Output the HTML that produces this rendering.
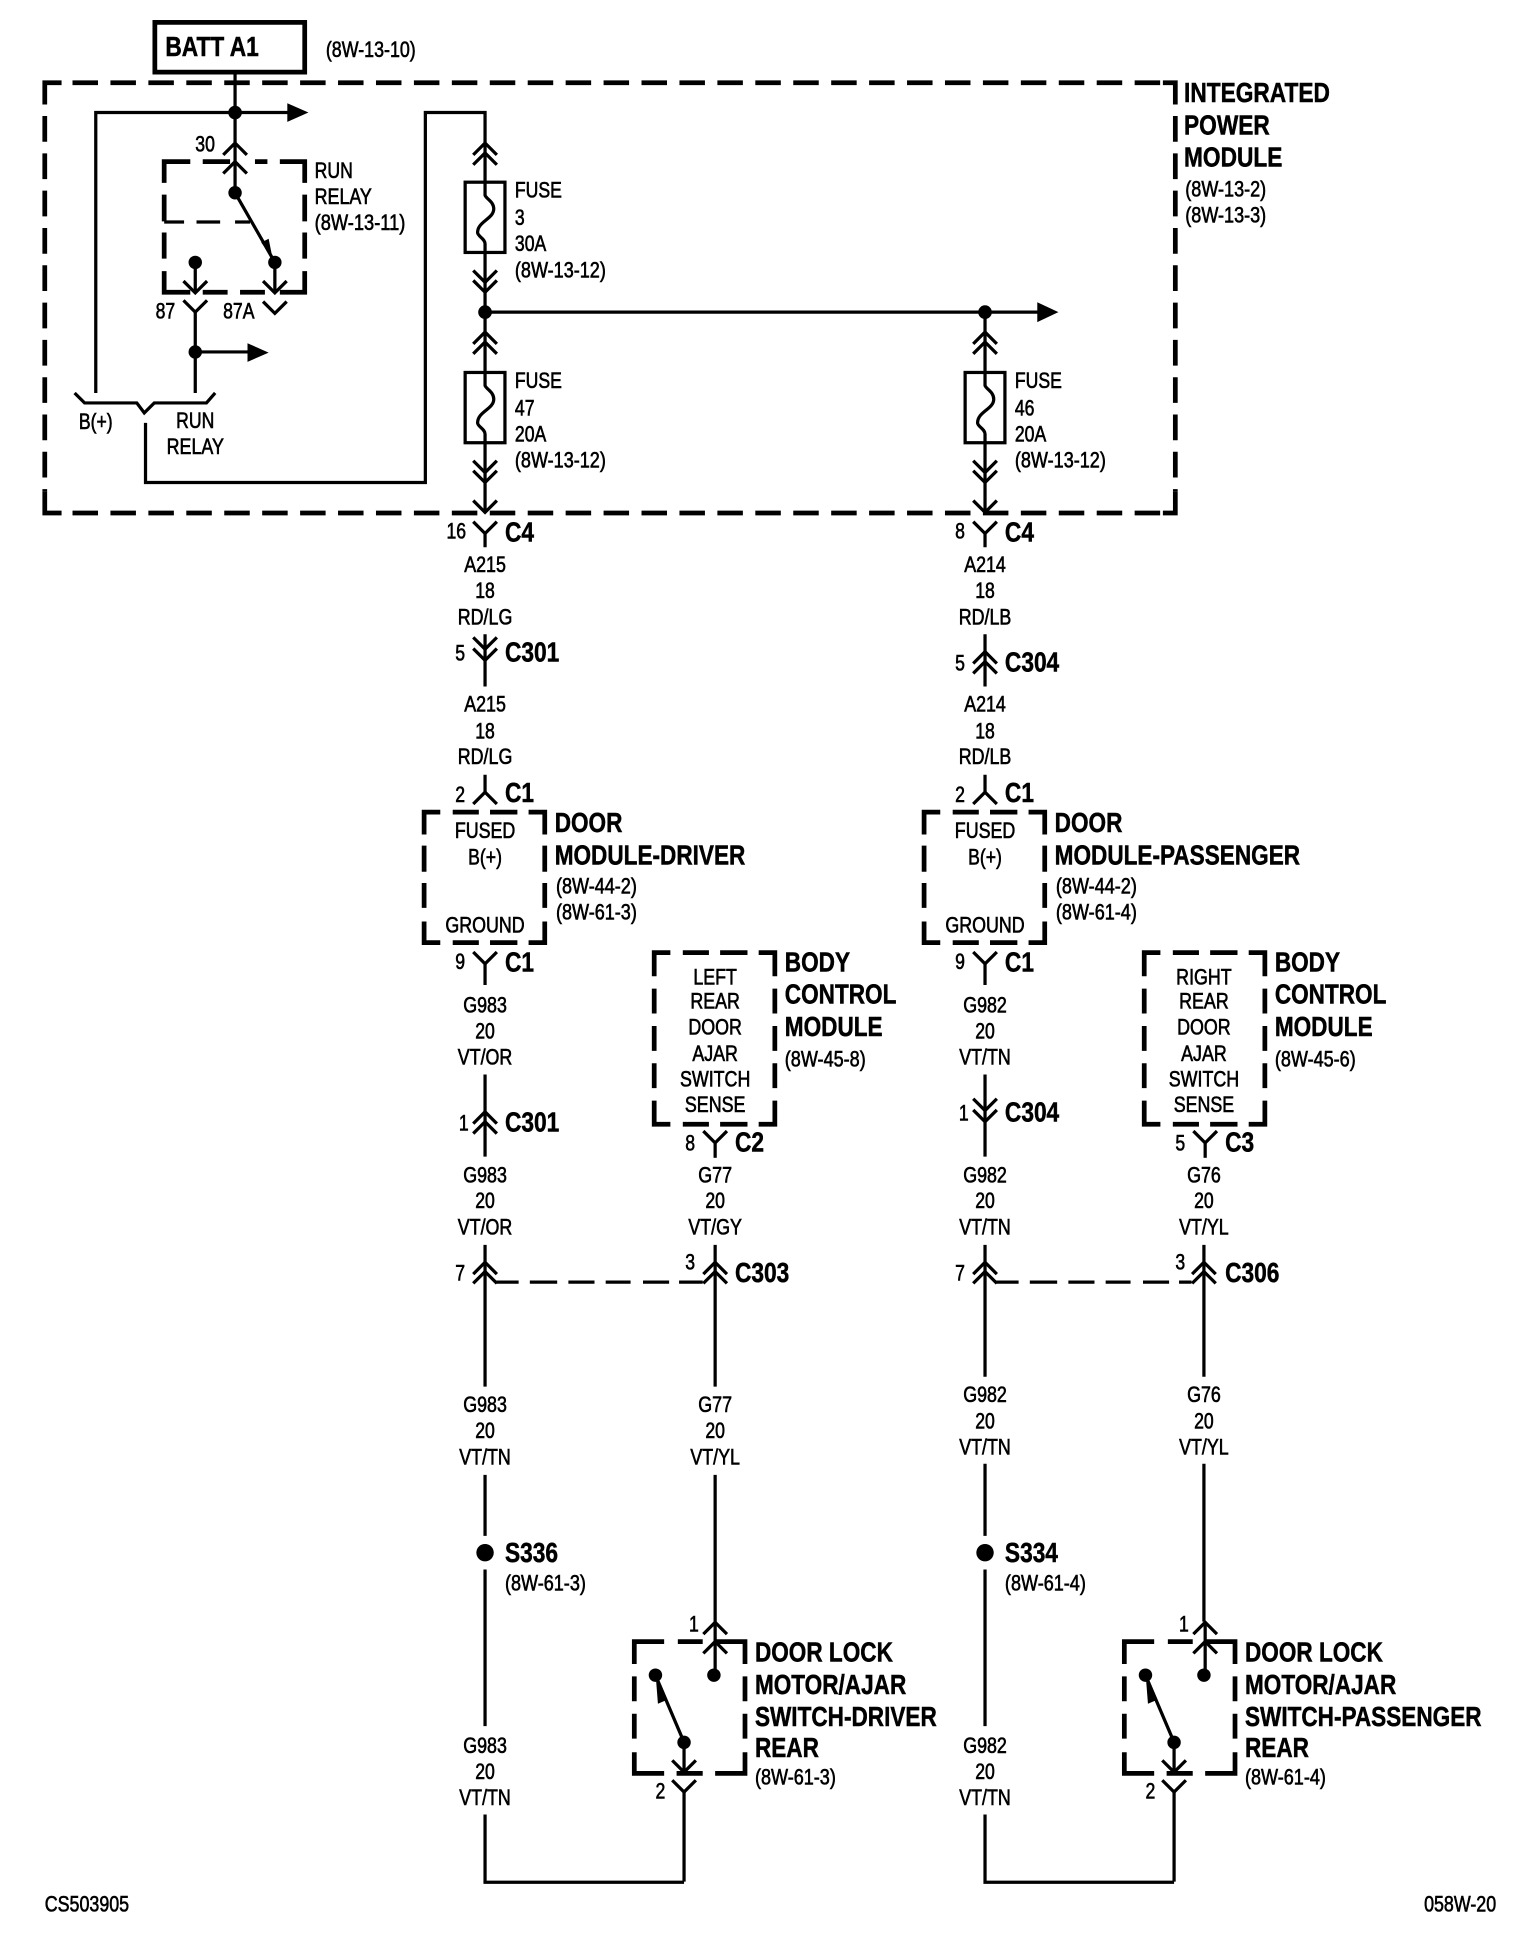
<!DOCTYPE html>
<html lang="en"><head><meta charset="utf-8"><title>Wiring diagram 8W-20</title>
<style>
html,body{margin:0;padding:0;background:#fff}
svg{display:block;width:1536px;height:1950px}
text{font-family:"Liberation Sans",Arial,sans-serif;fill:#000}
.t{font-size:17.5px;stroke:#000;stroke-width:.5}
.b{font-size:22px;font-weight:bold;stroke:#000;stroke-width:.4}
.m{text-anchor:middle}
.w,.c{fill:none;stroke:#000;stroke-width:2.6}
.c{stroke-linejoin:miter}
.d{fill:none;stroke:#000;stroke-width:3.8}
.f{fill:#000;stroke:none}
</style></head><body>
<svg xmlns="http://www.w3.org/2000/svg" viewBox="0 0 1235 1568" preserveAspectRatio="none">
<rect width="1235" height="1568" fill="#fff"/>
<defs>
<path id="dn" class="c" d="M-9.5,-9.5L0,0L9.5,-9.5"/>
<path id="up" class="c" d="M-9.5,9.5L0,0L9.5,9.5"/>
<g id="sw">
<path class="d" d="M510,1338V1320H534M545,1320H565M575,1320H599V1338M510,1348V1368M510,1378V1398M510,1409V1426H534M544,1426H565M575,1426H599V1409M599,1348V1368M599,1378V1398"/>
<path class="w" d="M575,1304V1347M550,1401V1424M550,1440V1513"/>
<path class="w" d="M527,1347L550,1401"/>
<path class="f" d="M527.5,1351L536,1367L529,1370Z"/>
<use href="#up" x="575" y="1304.5"/><use href="#up" x="575" y="1320"/>
<use href="#dn" x="550" y="1425"/><use href="#dn" x="550" y="1441"/>
<circle class="f" cx="574" cy="1347" r="5.4"/><circle class="f" cx="527" cy="1347" r="5.4"/><circle class="f" cx="550" cy="1401" r="5.4"/>
</g>
<g id="dm">
<path class="d" d="M341,671V653H354M364,653H385M394,653H416M425,653H438V671M341,680V701M341,710V730M341,741V758H354M364,758H385M394,758H416M425,758H438V741M438,680V701M438,710V730"/>
<path class="w" d="M390,623V638M390,775V792"/>
<use href="#up" x="390" y="637"/><use href="#dn" x="390" y="775"/>
</g>
<g id="bcm">
<path class="d" d="M526,785V766H539M549,766H570M579,766H601M610,766H623V785M526,795V815M526,825V845M526,855V875M526,885V904H539M549,904H570M579,904H601M610,904H623V885M623,795V815M623,825V845M623,855V875"/>
<path class="w" d="M575,918V931"/><use href="#dn" x="575" y="919"/>
</g>
<g id="lowc">
<path class="w" d="M390,1001V1115"/><use href="#up" x="390" y="1015"/><use href="#up" x="390" y="1022.5"/>
<path class="w" d="M575,1001V1115"/><use href="#up" x="575" y="1015"/><use href="#up" x="575" y="1022.5"/>
</g>
</defs>

<!-- outer module -->
<path class="d" d="M36,84V66.500H49.500M945,84V66.500H935M36,395V412.500H49.500M945,395V412.500H935"/>
<path class="d" stroke-dasharray="20.5 10" d="M58.300,66.500H935M58.300,412.500H935"/>
<path class="d" stroke-dasharray="20.700 9.300" d="M36,93.300V395M945,93.300V395"/>

<!-- batt -->
<rect x="124.500" y="18" width="120.500" height="40" fill="none" stroke="#000" stroke-width="3.8"/>
<text class="b" transform="translate(133,45) scale(.83 1)">BATT A1</text>
<text class="t" transform="translate(262,46) scale(.82 1)">(8W-13-10)</text>
<path class="w" d="M189,58V155M77,316V90.500H232"/><path class="f" d="M231,83L248,90.500L231,98Z"/>
<circle class="f" cx="189" cy="90.500" r="5.500"/>
<use href="#up" x="189" y="115"/><use href="#up" x="189" y="130"/>
<text class="t" transform="translate(157,122) scale(.81 1)">30</text>

<!-- relay -->
<path class="d" d="M132,147V130H153M163,130H185M205,130H215M225,130H245V147M245,156.500V178M245,187V208M245,218V235H225M213,235H193M183,235H163M153,235H132V218M132,208V187M132,178V156.500"/>
<path class="w" d="M132,178.500H148M158,178.500H177M189,178.500H201"/>
<path class="w" d="M189,155L221,211M157,211V235M221,211V235M157,250V316"/>
<path class="f" d="M219,207L210,195L216,192Z"/>
<circle class="f" cx="189" cy="155" r="5.400"/><circle class="f" cx="157" cy="211" r="5.400"/><circle class="f" cx="221" cy="211" r="5.400"/>
<use href="#dn" x="157" y="235.500"/><use href="#dn" x="221" y="235.500"/><use href="#dn" x="157" y="251"/><use href="#dn" x="221" y="252"/>
<text class="t" transform="translate(253,143) scale(.81 1)">RUN</text>
<text class="t" transform="translate(253,164) scale(.82 1)">RELAY</text>
<text class="t" transform="translate(253,185) scale(.84 1)">(8W-13-11)</text>
<text class="t m" transform="translate(133,256) scale(.81 1)">87</text>
<text class="t m" transform="translate(192,256) scale(.81 1)">87A</text>
<circle class="f" cx="157" cy="283" r="5.400"/>
<path class="w" d="M157,283H200"/><path class="f" d="M199,276L216,283.500L199,291Z"/>
<path class="w" d="M60,316L68,324H110L116,332L124,324H166L173,316"/>
<text class="t m" transform="translate(77,345) scale(.81 1)">B(+)</text>
<text class="t m" transform="translate(157,344) scale(.81 1)">RUN</text>
<text class="t m" transform="translate(157,365) scale(.82 1)">RELAY</text>
<path class="w" d="M117,340V388H342V90.500H390V146"/>

<!-- fuses -->
<use href="#up" x="390" y="115"/><use href="#up" x="390" y="123"/>
<rect x="374" y="146.500" width="32" height="56.500" fill="none" stroke="#000" stroke-width="2.600"/>
<path class="w" d="M390,146.500V157C391,160 397,162 397,168C397,176 384,178 384,187C384,190 390,192 390,196V251"/>
<use href="#dn" x="390" y="227"/><use href="#dn" x="390" y="235"/>
<circle class="f" cx="390" cy="251" r="5.500"/>
<text class="t" transform="translate(414,159) scale(.81 1)">FUSE</text>
<text class="t" transform="translate(414,181) scale(.81 1)">3</text>
<text class="t" transform="translate(414,202) scale(.81 1)">30A</text>
<text class="t" transform="translate(414,223) scale(.83 1)">(8W-13-12)</text>
<path class="w" d="M390,251H835"/><path class="f" d="M834,243L851,251L834,259Z"/>
<circle class="f" cx="792" cy="251" r="5.500"/>

<use href="#up" x="390" y="267"/><use href="#up" x="390" y="275"/>
<rect x="374" y="299.500" width="32" height="56.500" fill="none" stroke="#000" stroke-width="2.600"/>
<path class="w" d="M390,251V310C391,313 397,315 397,321C397,329 384,331 384,340C384,343 390,345 390,349V412"/>
<use href="#dn" x="390" y="380"/><use href="#dn" x="390" y="388"/><use href="#dn" x="390" y="412"/>
<text class="t" transform="translate(414,312) scale(.81 1)">FUSE</text>
<text class="t" transform="translate(414,334) scale(.81 1)">47</text>
<text class="t" transform="translate(414,355) scale(.81 1)">20A</text>
<text class="t" transform="translate(414,376) scale(.83 1)">(8W-13-12)</text>

<use href="#up" x="792" y="267"/><use href="#up" x="792" y="275"/>
<rect x="776" y="299.500" width="32" height="56.500" fill="none" stroke="#000" stroke-width="2.600"/>
<path class="w" d="M792,251V310C793,313 799,315 799,321C799,329 786,331 786,340C786,343 792,345 792,349V412"/>
<use href="#dn" x="792" y="380"/><use href="#dn" x="792" y="388"/><use href="#dn" x="792" y="412"/>
<text class="t" transform="translate(816,312) scale(.81 1)">FUSE</text>
<text class="t" transform="translate(816,334) scale(.81 1)">46</text>
<text class="t" transform="translate(816,355) scale(.81 1)">20A</text>
<text class="t" transform="translate(816,376) scale(.83 1)">(8W-13-12)</text>

<text class="b" transform="translate(952,82) scale(.83 1)">INTEGRATED</text>
<text class="b" transform="translate(952,108) scale(.83 1)">POWER</text>
<text class="b" transform="translate(952,134) scale(.83 1)">MODULE</text>
<text class="t" transform="translate(953,158) scale(.83 1)">(8W-13-2)</text>
<text class="t" transform="translate(953,179) scale(.83 1)">(8W-13-3)</text>

<!-- C4 -->
<path class="w" d="M390,428V440M792,428V440"/><use href="#dn" x="390" y="429"/><use href="#dn" x="792" y="429"/>
<text class="t" transform="translate(359,433) scale(.81 1)">16</text>
<text class="b" transform="translate(406,435.500) scale(.83 1)">C4</text>
<text class="t" transform="translate(768,433) scale(.81 1)">8</text>
<text class="b" transform="translate(808,435.500) scale(.83 1)">C4</text>

<text class="t m" transform="translate(390,460) scale(.82 1)">A215</text>
<text class="t m" transform="translate(390,481) scale(.81 1)">18</text>
<text class="t m" transform="translate(390,502) scale(.82 1)">RD/LG</text>
<text class="t m" transform="translate(792,460) scale(.82 1)">A214</text>
<text class="t m" transform="translate(792,481) scale(.81 1)">18</text>
<text class="t m" transform="translate(792,502) scale(.82 1)">RD/LB</text>

<!-- C301 / C304 upper -->
<path class="w" d="M390,510V552M792,510V552"/>
<use href="#dn" x="390" y="522"/><use href="#dn" x="390" y="531"/>
<use href="#up" x="792" y="524"/><use href="#up" x="792" y="532"/>
<text class="t" transform="translate(366,531) scale(.81 1)">5</text>
<text class="b" transform="translate(406,532) scale(.83 1)">C301</text>
<text class="t" transform="translate(768,539) scale(.81 1)">5</text>
<text class="b" transform="translate(808,540) scale(.83 1)">C304</text>

<text class="t m" transform="translate(390,572) scale(.82 1)">A215</text>
<text class="t m" transform="translate(390,594) scale(.81 1)">18</text>
<text class="t m" transform="translate(390,614.500) scale(.82 1)">RD/LG</text>
<text class="t m" transform="translate(792,572) scale(.82 1)">A214</text>
<text class="t m" transform="translate(792,594) scale(.81 1)">18</text>
<text class="t m" transform="translate(792,614.500) scale(.82 1)">RD/LB</text>

<!-- door modules -->
<use href="#dm"/><use href="#dm" x="402"/>
<text class="t" transform="translate(366,645) scale(.81 1)">2</text>
<text class="b" transform="translate(406,645) scale(.83 1)">C1</text>
<text class="t" transform="translate(768,645) scale(.81 1)">2</text>
<text class="b" transform="translate(808,645) scale(.83 1)">C1</text>
<text class="t m" transform="translate(390,674) scale(.82 1)">FUSED</text>
<text class="t m" transform="translate(390,695) scale(.81 1)">B(+)</text>
<text class="t m" transform="translate(390,750) scale(.82 1)">GROUND</text>
<text class="t m" transform="translate(792,674) scale(.82 1)">FUSED</text>
<text class="t m" transform="translate(792,695) scale(.81 1)">B(+)</text>
<text class="t m" transform="translate(792,750) scale(.82 1)">GROUND</text>
<text class="b" transform="translate(446,669) scale(.825 1)">DOOR</text>
<text class="b" transform="translate(446,695) scale(.825 1)">MODULE-DRIVER</text>
<text class="t" transform="translate(447,718.500) scale(.83 1)">(8W-44-2)</text>
<text class="t" transform="translate(447,739.500) scale(.83 1)">(8W-61-3)</text>
<text class="b" transform="translate(848,669) scale(.825 1)">DOOR</text>
<text class="b" transform="translate(848,695) scale(.825 1)">MODULE-PASSENGER</text>
<text class="t" transform="translate(849,718.500) scale(.83 1)">(8W-44-2)</text>
<text class="t" transform="translate(849,739.500) scale(.83 1)">(8W-61-4)</text>
<text class="t" transform="translate(366,779) scale(.81 1)">9</text>
<text class="b" transform="translate(406,781) scale(.83 1)">C1</text>
<text class="t" transform="translate(768,779) scale(.81 1)">9</text>
<text class="b" transform="translate(808,781) scale(.83 1)">C1</text>

<text class="t m" transform="translate(390,814) scale(.82 1)">G983</text>
<text class="t m" transform="translate(390,835) scale(.81 1)">20</text>
<text class="t m" transform="translate(390,856) scale(.82 1)">VT/OR</text>
<text class="t m" transform="translate(792,814) scale(.82 1)">G982</text>
<text class="t m" transform="translate(792,835) scale(.81 1)">20</text>
<text class="t m" transform="translate(792,856) scale(.82 1)">VT/TN</text>

<!-- mid connectors -->
<path class="w" d="M390,864V930M792,864V930"/>
<use href="#up" x="390" y="894"/><use href="#up" x="390" y="902"/>
<use href="#dn" x="792" y="893"/><use href="#dn" x="792" y="902"/>
<text class="t" transform="translate(369,909) scale(.81 1)">1</text>
<text class="b" transform="translate(406,910) scale(.83 1)">C301</text>
<text class="t" transform="translate(771,901) scale(.81 1)">1</text>
<text class="b" transform="translate(808,902) scale(.83 1)">C304</text>

<!-- BCMs -->
<use href="#bcm"/><use href="#bcm" x="394"/>
<text class="t m" transform="translate(575,791.500) scale(.82 1)">LEFT</text>
<text class="t m" transform="translate(575,811) scale(.82 1)">REAR</text>
<text class="t m" transform="translate(575,832) scale(.82 1)">DOOR</text>
<text class="t m" transform="translate(575,853) scale(.82 1)">AJAR</text>
<text class="t m" transform="translate(575,873.500) scale(.82 1)">SWITCH</text>
<text class="t m" transform="translate(575,894) scale(.82 1)">SENSE</text>
<text class="t m" transform="translate(968,791.500) scale(.82 1)">RIGHT</text>
<text class="t m" transform="translate(968,811) scale(.82 1)">REAR</text>
<text class="t m" transform="translate(968,832) scale(.82 1)">DOOR</text>
<text class="t m" transform="translate(968,853) scale(.82 1)">AJAR</text>
<text class="t m" transform="translate(968,873.500) scale(.82 1)">SWITCH</text>
<text class="t m" transform="translate(968,894) scale(.82 1)">SENSE</text>
<text class="b" transform="translate(631,781) scale(.825 1)">BODY</text>
<text class="b" transform="translate(631,807) scale(.825 1)">CONTROL</text>
<text class="b" transform="translate(631,833) scale(.825 1)">MODULE</text>
<text class="t" transform="translate(631,857.500) scale(.83 1)">(8W-45-8)</text>
<text class="b" transform="translate(1025,781) scale(.825 1)">BODY</text>
<text class="b" transform="translate(1025,807) scale(.825 1)">CONTROL</text>
<text class="b" transform="translate(1025,833) scale(.825 1)">MODULE</text>
<text class="t" transform="translate(1025,857.500) scale(.83 1)">(8W-45-6)</text>
<text class="t" transform="translate(551,925) scale(.81 1)">8</text>
<text class="b" transform="translate(591,926) scale(.83 1)">C2</text>
<text class="t" transform="translate(945,925) scale(.81 1)">5</text>
<text class="b" transform="translate(985,926) scale(.83 1)">C3</text>

<text class="t m" transform="translate(390,951) scale(.82 1)">G983</text>
<text class="t m" transform="translate(390,971.500) scale(.81 1)">20</text>
<text class="t m" transform="translate(390,992.500) scale(.82 1)">VT/OR</text>
<text class="t m" transform="translate(575,951) scale(.82 1)">G77</text>
<text class="t m" transform="translate(575,971.500) scale(.81 1)">20</text>
<text class="t m" transform="translate(575,992.500) scale(.82 1)">VT/GY</text>
<text class="t m" transform="translate(792,951) scale(.82 1)">G982</text>
<text class="t m" transform="translate(792,971.500) scale(.81 1)">20</text>
<text class="t m" transform="translate(792,992.500) scale(.82 1)">VT/TN</text>
<text class="t m" transform="translate(968,951) scale(.82 1)">G76</text>
<text class="t m" transform="translate(968,971.500) scale(.81 1)">20</text>
<text class="t m" transform="translate(968,992.500) scale(.82 1)">VT/YL</text>

<!-- C303 / C306 -->
<use href="#lowc"/>
<path class="w" d="M792,1001V1107M968,1001V1107"/>
<use href="#up" x="792" y="1015"/><use href="#up" x="792" y="1022.500"/><use href="#up" x="968" y="1015"/><use href="#up" x="968" y="1022.500"/>
<path class="w" d="M399,1031H417M426,1031H448M457,1031H478M487,1031H507M517,1031H538M546,1031H565"/>
<path class="w" d="M801,1031H819M828,1031H850M859,1031H880M889,1031H909M919,1031H940M948,1031H958"/>
<text class="t" transform="translate(366,1029.500) scale(.81 1)">7</text>
<text class="t" transform="translate(551,1021) scale(.81 1)">3</text>
<text class="b" transform="translate(591,1031) scale(.83 1)">C303</text>
<text class="t" transform="translate(768,1029.500) scale(.81 1)">7</text>
<text class="t" transform="translate(945,1021) scale(.81 1)">3</text>
<text class="b" transform="translate(985,1031) scale(.83 1)">C306</text>

<text class="t m" transform="translate(390,1135.500) scale(.82 1)">G983</text>
<text class="t m" transform="translate(390,1156.500) scale(.81 1)">20</text>
<text class="t m" transform="translate(390,1177.500) scale(.82 1)">VT/TN</text>
<text class="t m" transform="translate(575,1135.500) scale(.82 1)">G77</text>
<text class="t m" transform="translate(575,1156.500) scale(.81 1)">20</text>
<text class="t m" transform="translate(575,1177.500) scale(.82 1)">VT/YL</text>
<text class="t m" transform="translate(792,1127.500) scale(.82 1)">G982</text>
<text class="t m" transform="translate(792,1148.500) scale(.81 1)">20</text>
<text class="t m" transform="translate(792,1169.500) scale(.82 1)">VT/TN</text>
<text class="t m" transform="translate(968,1127.500) scale(.82 1)">G76</text>
<text class="t m" transform="translate(968,1148.500) scale(.81 1)">20</text>
<text class="t m" transform="translate(968,1169.500) scale(.82 1)">VT/YL</text>

<!-- splices -->
<path class="w" d="M390,1186V1235M390,1262V1388M792,1177V1235M792,1262V1388M575,1186V1304M968,1177V1304"/>
<circle class="f" cx="390" cy="1248.500" r="7"/><circle class="f" cx="792" cy="1248.500" r="7"/>
<text class="b" transform="translate(406,1256) scale(.83 1)">S336</text>
<text class="t" transform="translate(406,1279) scale(.83 1)">(8W-61-3)</text>
<text class="b" transform="translate(808,1256) scale(.83 1)">S334</text>
<text class="t" transform="translate(808,1279) scale(.83 1)">(8W-61-4)</text>

<text class="t m" transform="translate(390,1409.500) scale(.82 1)">G983</text>
<text class="t m" transform="translate(390,1430.500) scale(.81 1)">20</text>
<text class="t m" transform="translate(390,1451.500) scale(.82 1)">VT/TN</text>
<text class="t m" transform="translate(792,1409.500) scale(.82 1)">G982</text>
<text class="t m" transform="translate(792,1430.500) scale(.81 1)">20</text>
<text class="t m" transform="translate(792,1451.500) scale(.82 1)">VT/TN</text>

<!-- switches -->
<use href="#sw"/><use href="#sw" x="394"/>
<path class="w" d="M390,1459V1513.500H550M792,1459V1513.500H944"/>
<text class="t" transform="translate(554,1312) scale(.81 1)">1</text>
<text class="t" transform="translate(527,1446) scale(.81 1)">2</text>
<text class="t" transform="translate(948,1312) scale(.81 1)">1</text>
<text class="t" transform="translate(921,1446) scale(.81 1)">2</text>
<text class="b" transform="translate(607,1336) scale(.825 1)">DOOR LOCK</text>
<text class="b" transform="translate(607,1362) scale(.825 1)">MOTOR/AJAR</text>
<text class="b" transform="translate(607,1388) scale(.825 1)">SWITCH-DRIVER</text>
<text class="b" transform="translate(607,1413) scale(.825 1)">REAR</text>
<text class="t" transform="translate(607,1435) scale(.83 1)">(8W-61-3)</text>
<text class="b" transform="translate(1001,1336) scale(.825 1)">DOOR LOCK</text>
<text class="b" transform="translate(1001,1362) scale(.825 1)">MOTOR/AJAR</text>
<text class="b" transform="translate(1001,1388) scale(.825 1)">SWITCH-PASSENGER</text>
<text class="b" transform="translate(1001,1413) scale(.825 1)">REAR</text>
<text class="t" transform="translate(1001,1435) scale(.83 1)">(8W-61-4)</text>

<text class="t" transform="translate(36,1537) scale(.82 1)">CS503905</text>
<text class="t" transform="translate(1145,1537) scale(.82 1)">058W-20</text>
</svg>
</body></html>
